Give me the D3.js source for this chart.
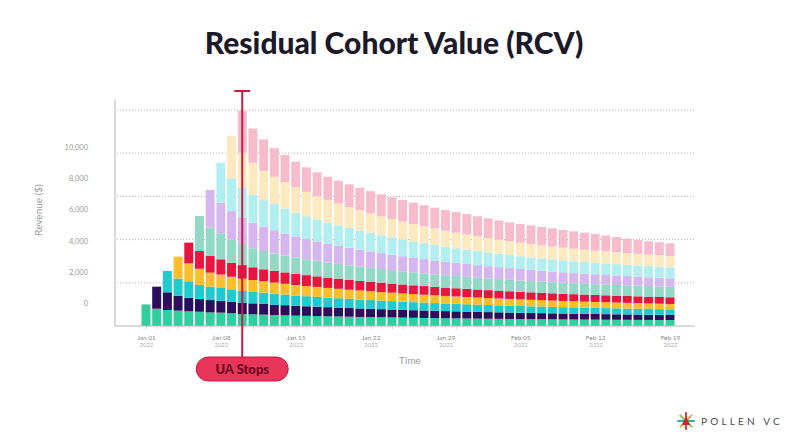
<!DOCTYPE html>
<html>
<head>
<meta charset="utf-8">
<script src="https://cdn.jsdelivr.net/npm/d3@7"></script>
<style>
  body { margin: 0; background: #fff; }
  svg { display: block; font-family: Lato, "Noto Sans", sans-serif; }
</style>
</head>
<body>
<svg id="chart"></svg>
<script>
// one array per cohort, values start on the cohort's first day
var green       = [1000,800,740,710,680,660,630,620,590,555,540,525,510,495,480,470,460,450,440,430,420,412,404,396,388,380,373,366,360,354,348,342,337,332,327,322,317,313,309,305,301,298,295,292,289,287,284,282,280,278];
var navy        = [1020,820,690,630,590,570,540,535,525,510,495,480,468,455,443,432,421,411,401,392,383,375,367,359,352,345,338,331,325,319,313,307,302,297,292,287,282,277,273,269,265,261,257,253,249,245,241,236,232];
var cyan        = [990,790,760,660,620,600,575,540,525,520,505,490,478,466,455,444,434,424,415,406,397,389,381,373,366,359,352,346,340,334,328,323,318,313,308,303,299,295,291,287,283,280,277,274,271,268,266,263];
var yellow      = [1020,830,740,650,620,580,570,555,530,515,500,486,473,461,449,438,427,417,407,398,389,380,372,364,356,349,342,335,329,323,317,311,306,301,296,291,286,282,278,274,270,266,262,258,254,250,247];
var red         = [960,820,770,710,650,630,590,555,545,530,516,503,491,480,469,459,449,440,431,423,415,407,400,393,386,380,378,372,366,361,356,351,346,342,338,334,331,328,325,322,320,318,316,314,312,310];
var mint        = [1620,1310,1200,1080,980,880,845,805,780,758,738,720,703,687,672,658,645,633,621,610,600,590,581,572,564,556,549,542,536,530,525,520,515,511,507,503,500,497,495,494,493,492,491,490,490];
var lavender    = [1750,1420,1310,1210,1180,1130,1075,1020,975,935,900,868,838,810,784,760,737,715,695,676,658,641,625,610,595,581,567,554,541,529,517,506,495,485,475,465,456,447,438,428,418,408,398,387];
var lightCyan   = [1850,1520,1390,1290,1230,1210,1150,1100,1055,1015,978,944,912,882,854,828,803,780,758,737,717,698,680,663,647,632,618,605,593,582,572,563,555,548,542,536,531,527,523,520,517,515,513];
var lightYellow = [1960,1620,1490,1350,1260,1230,1180,1130,1085,1045,1008,973,940,909,880,853,828,804,781,760,740,721,703,686,670,655,641,628,616,605,595,586,577,569,561,554,547,541,535,530,525,520];
var pink        = [1950,1580,1460,1325,1254,1180,1132,1094,1074,1058,1049,1040,1030,1013,1001,995,985,972,965,958,952,945,925,908,885,876,870,862,850,840,820,805,790,770,740,710,675,645,620,605,590];

var cohorts = [green, navy, cyan, yellow, red, mint, lavender, lightCyan, lightYellow, pink];
var colors = ["#2fcf9e","#2b0e5c","#20cbcf","#fbbf2c","#e6163f","#92d9c6","#d5b6ef","#b2eef0","#fde9c0","#f7bccb"];

var startDate = new Date(2022, 0, 1);
var dayCount = 50;
var stopDay = 9;  // UA stops (Jan 10)
var yTicks = [0, 2000, 4000, 6000, 8000, 10000];

// build rows day by day
var days = d3.range(dayCount).map(function (i) { return d3.timeDay.offset(startDate, i); });
var keys = cohorts.map(function (c, k) { return "c" + k; });
var table = days.map(function (d, i) {
    var row = {date: d};
    cohorts.forEach(function (c, k) {
        row["c" + k] = i >= k ? c[i - k] : 0;
    });
    return row;
});

var width = 800, height = 444;
var svg = d3.select("#chart").attr("width", width).attr("height", height);

var x = d3.scaleTime()
    .domain([days[0], days[dayCount - 1]])
    .range([146, 670]);
var step = x(days[1]) - x(days[0]);
var barW = step * 0.84;

var y = d3.scaleLinear().domain([0, 10000]).range([326, 110]);
// the tick labels sit on their own spacing in the original
var yLab = d3.scaleLinear().domain([0, 10000]).range([303, 147]);

var plotLeft = 115, plotRight = 695;

// title
svg.append("text")
    .attr("x", 394).attr("y", 54)
    .attr("text-anchor", "middle")
    .attr("font-size", 30).attr("font-weight", 900)
    .attr("fill", "#1c1929")
    .text("Residual Cohort Value (RCV)");

// gridlines
svg.append("g")
    .selectAll("line")
    .data(yTicks.slice(1))
    .enter().append("line")
    .attr("x1", plotLeft + 2).attr("x2", plotRight)
    .attr("y1", function (d) { return y(d); })
    .attr("y2", function (d) { return y(d); })
    .attr("stroke", "#9a9a9a").attr("stroke-width", 0.8)
    .attr("stroke-dasharray", "1,2");

// y labels
var yAxis = svg.append("g")
    .attr("transform", "translate(88,0)")
    .call(d3.axisLeft(yLab).tickValues(yTicks).tickSize(0).tickPadding(0).tickFormat(d3.format(",")));
yAxis.select(".domain").remove();
yAxis.selectAll("text").attr("fill", "#9a9a9a").attr("font-size", 7.5).attr("font-family", "Lato, sans-serif");

svg.append("text")
    .attr("transform", "translate(42,210) rotate(-90)")
    .attr("text-anchor", "middle")
    .attr("font-size", 10).attr("fill", "#9a9a9a")
    .text("Revenue ($)");

// bars
var series = d3.stack().keys(keys)(table);
svg.append("g")
    .selectAll("g")
    .data(series)
    .enter().append("g")
    .attr("fill", function (d, k) { return colors[k]; })
    .selectAll("rect")
    .data(function (d) { return d; })
    .enter().append("rect")
    .attr("x", function (d) { return x(d.data.date) - barW / 2; })
    .attr("width", barW)
    .attr("y", function (d) { return y(d[1]); })
    .attr("height", function (d) { return y(d[0]) - y(d[1]); });

// axes lines
svg.append("line")
    .attr("x1", plotLeft).attr("x2", plotLeft)
    .attr("y1", y(0)).attr("y2", 100)
    .attr("stroke", "#b5b5b5").attr("stroke-width", 1);
svg.append("line")
    .attr("x1", plotLeft).attr("x2", plotRight)
    .attr("y1", y(0)).attr("y2", y(0))
    .attr("stroke", "#b5b5b5").attr("stroke-width", 1);

// daily minor ticks
var minor = svg.append("g")
    .attr("transform", "translate(0," + y(0) + ")")
    .call(d3.axisBottom(x).ticks(d3.timeDay.every(1)).tickSize(3).tickFormat(""));
minor.select(".domain").remove();
minor.selectAll("line").attr("stroke", "#d0d0d0");

// weekly labels
var fmt = d3.timeFormat("%b %d");
var xAxis = svg.append("g")
    .attr("transform", "translate(0," + y(0) + ")")
    .call(d3.axisBottom(x).tickValues(days.filter(function (d, i) { return i % 7 === 0; })).tickSize(0));
xAxis.select(".domain").remove();
xAxis.selectAll(".tick text").each(function (d) {
    var t = d3.select(this);
    t.text(null).attr("y", 9).attr("dy", null);
    t.append("tspan").attr("x", 0).attr("dy", "0.71em")
        .attr("fill", "#8a8a8a").attr("font-size", 6.5).text(fmt(d));
    t.append("tspan").attr("x", 0).attr("dy", "1.25em")
        .attr("fill", "#b0b0b0").attr("font-size", 6).text(d.getFullYear());
});
xAxis.selectAll("text").attr("font-family", "Lato, sans-serif");

svg.append("text")
    .attr("x", 410).attr("y", 364)
    .attr("text-anchor", "middle")
    .attr("font-size", 10).attr("fill", "#9a9a9a")
    .text("Time");

// UA stops marker
var mx = x(days[stopDay]);
svg.append("line")
    .attr("x1", mx).attr("x2", mx)
    .attr("y1", 91).attr("y2", 358)
    .attr("stroke", "#c81d45").attr("stroke-width", 2);
svg.append("line")
    .attr("x1", mx - 8).attr("x2", mx + 8)
    .attr("y1", 91).attr("y2", 91)
    .attr("stroke", "#c81d45").attr("stroke-width", 2);
svg.append("rect")
    .attr("x", mx - 46).attr("y", 357)
    .attr("width", 92).attr("height", 24).attr("rx", 12)
    .attr("fill", "#e8355a").attr("stroke", "#c81d45").attr("stroke-width", 1);
svg.append("text")
    .attr("x", mx).attr("y", 374)
    .attr("text-anchor", "middle")
    .attr("font-size", 13).attr("font-weight", 900)
    .attr("fill", "#6a0620")
    .text("UA Stops");

// logo
var logo = svg.append("g").attr("transform", "translate(686,421)");
var spokeColors = ["#e63946","#f29e4c","#2bb5a0","#8cc63f","#e63946","#f29e4c","#2bb5a0","#8cc63f"];
logo.selectAll("line")
    .data(d3.range(8))
    .enter().append("line")
    .attr("x1", 0).attr("y1", 0)
    .attr("x2", function (d) { return 8 * Math.cos(d * Math.PI / 4 - Math.PI / 2); })
    .attr("y2", function (d) { return 8 * Math.sin(d * Math.PI / 4 - Math.PI / 2); })
    .attr("stroke", function (d) { return spokeColors[d]; })
    .attr("stroke-width", 2).attr("stroke-linecap", "round");
logo.append("path")
    .attr("d", "M0,-5 L4,4 L-4,4 Z")
    .attr("fill", "#c8283a");
svg.append("text")
    .attr("x", 701).attr("y", 425)
    .attr("font-size", 10).attr("letter-spacing", 3.2)
    .attr("fill", "#4a4a4a")
    .text("POLLEN VC");
</script>
</body>
</html>
